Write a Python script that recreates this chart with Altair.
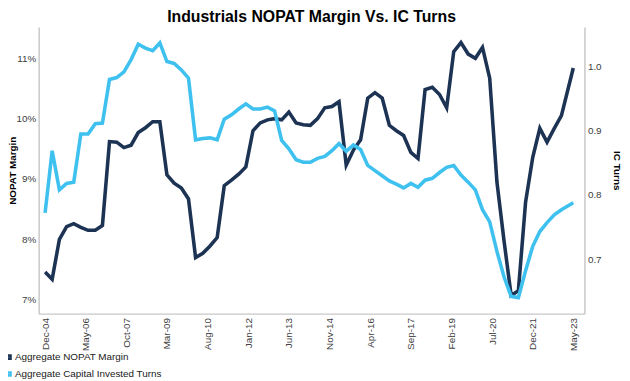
import altair as alt
import pandas as pd

# quarterly observations, Dec-04 .. Feb-23, plus May-23
dates = list(pd.date_range("2004-12-01", periods=73, freq="3MS").strftime("%Y-%m-%d")) + ["2023-05-01"]

nopat_margin = [
    7.46, 7.34, 8.00, 8.21, 8.26, 8.20, 8.15, 8.15, 8.23, 9.62,
    9.61, 9.52, 9.56, 9.77, 9.85, 9.95, 9.95, 9.07, 8.93, 8.85,
    8.67, 7.70, 7.77, 7.89, 8.03, 8.89, 8.98, 9.08, 9.20, 9.80,
    9.93, 9.98, 10.00, 9.98, 10.11, 9.93, 9.90, 9.89, 10.00, 10.18,
    10.20, 10.28, 9.23, 9.48, 9.65, 10.34, 10.43, 10.34, 9.89, 9.80,
    9.72, 9.44, 9.34, 10.48, 10.52, 10.40, 10.18, 11.11, 11.26, 11.07,
    11.00, 11.18, 10.67, 8.95, 7.97, 7.07, 7.15, 8.62, 9.36, 9.84,
    9.61, 9.84, 10.05, 10.84,
]

ic_turns = [
    0.772, 0.869, 0.808, 0.818, 0.820, 0.895, 0.895, 0.911, 0.912, 0.980,
    0.983, 0.992, 1.011, 1.035, 1.029, 1.025, 1.037, 1.008, 1.005, 0.995,
    0.982, 0.886, 0.888, 0.889, 0.886, 0.918, 0.925, 0.934, 0.942, 0.934,
    0.934, 0.937, 0.931, 0.885, 0.872, 0.855, 0.851, 0.851, 0.857, 0.860,
    0.869, 0.880, 0.868, 0.878, 0.871, 0.846, 0.838, 0.830, 0.822, 0.817,
    0.811, 0.818, 0.812, 0.823, 0.826, 0.835, 0.843, 0.846, 0.831, 0.820,
    0.808, 0.777, 0.758, 0.712, 0.672, 0.642, 0.640, 0.682, 0.720, 0.743,
    0.757, 0.769, 0.777, 0.788,
]

tick_dates = ["2004-12-01", "2006-05-01", "2007-10-01", "2009-03-01", "2010-08-01",
              "2012-01-01", "2013-06-01", "2014-11-01", "2016-04-01", "2017-09-01",
              "2019-02-01", "2020-07-01", "2021-12-01", "2023-05-01"]

series_names = ["Aggregate NOPAT Margin", "Aggregate Capital Invested Turns"]
colors = ["#1d3354", "#3fc1f0"]

df_n = pd.DataFrame({"date": dates, "value": nopat_margin, "series": series_names[0]})
df_i = pd.DataFrame({"date": dates, "value": ic_turns, "series": series_names[1]})

FONT = "Liberation Sans"

x_enc = alt.X(
    "date:T",
    scale=alt.Scale(domain=["2004-09-10", "2023-09-20"]),
    axis=alt.Axis(
        values=[alt.DateTime(year=int(d[:4]), month=int(d[5:7]), date=1) for d in tick_dates],
        format="%b-%y", labelAngle=-90, title=None, ticks=False, grid=False,
        domainColor="#c8c8c8", domainWidth=1.5, labelPadding=4,
        labelFontSize=10, labelColor="#404040", labelFont=FONT,
    ),
)

color_enc = alt.Color(
    "series:N",
    scale=alt.Scale(domain=series_names, range=colors),
    legend=alt.Legend(
        title=None, orient="none", legendX=-35, legendY=329, direction="vertical",
        symbolType="square", symbolSize=10, symbolStrokeWidth=2.5,
        labelFontSize=10, labelFont=FONT, labelColor="#202020", rowPadding=3,
        symbolOffset=0, labelOffset=1,
    ),
    sort=series_names,
)

left = alt.Chart(df_n).mark_line(strokeWidth=3.6, strokeJoin="miter").encode(
    x=x_enc,
    y=alt.Y(
        "value:Q",
        scale=alt.Scale(domain=[6.77, 11.52], nice=False, zero=False),
        axis=alt.Axis(
            values=[7, 8, 9, 10, 11], labelExpr="datum.value + '%'", title="NOPAT Margin",
            ticks=False, grid=False, domainColor="#c8c8c8", domainWidth=1.5, labelPadding=3,
            labelFontSize=10, labelColor="#404040", labelFont=FONT,
            titleFont=FONT, titleFontSize=10, titleFontWeight="bold", titleColor="#000000",
            titlePadding=-2,
        ),
    ),
    color=color_enc,
)

right = alt.Chart(df_i).mark_line(strokeWidth=3.6, strokeJoin="miter").encode(
    x=x_enc,
    y=alt.Y(
        "value:Q",
        scale=alt.Scale(domain=[0.615, 1.062], nice=False, zero=False),
        axis=alt.Axis(
            orient="right", values=[0.7, 0.8, 0.9, 1.0], format=".1f", title="IC Turns",
            ticks=False, grid=False, domainColor="#c8c8c8", domainWidth=1.5, labelPadding=3,
            labelFontSize=10, labelColor="#404040", labelFont=FONT,
            titleFont=FONT, titleFontSize=10, titleFontWeight="bold", titleColor="#000000",
            titlePadding=11,
        ),
    ),
    color=color_enc,
)

chart = alt.layer(left, right).resolve_scale(y="independent").properties(
    width=552, height=290,
    title=alt.Title("Industrials NOPAT Margin Vs. IC Turns", fontSize=16, fontWeight="bold",
                    font=FONT, color="#000000", anchor="middle", offset=2),
    autosize=alt.AutoSizeParams(type="none"),
    padding={"left": 31, "top": 17, "right": 38, "bottom": 64},
).configure_view(stroke=None)

chart.save("out.html", embed_options={"renderer": "svg", "actions": False})
